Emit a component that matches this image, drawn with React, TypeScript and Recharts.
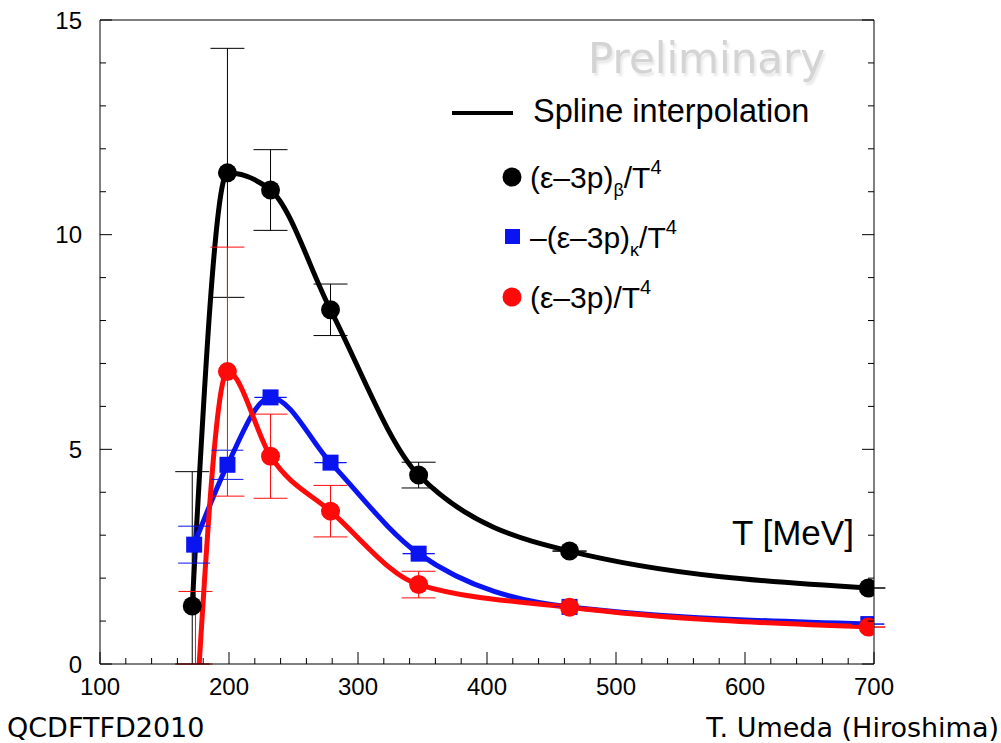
import React from 'react';
import { ComposedChart, Line, Scatter, ErrorBar, XAxis, YAxis } from 'recharts';

// Temperatures (MeV)
const tempBeta = [171.5, 198.8, 232.2, 278.7, 347.0, 464.0, 695.6];
const tempKappa = [173.0, 198.8, 232.2, 278.7, 347.0, 464.0, 695.6];
const tempTotal = [174.0, 198.8, 232.2, 278.7, 347.0, 464.0, 695.6];

// (e-3p)_beta / T^4  (black)
const betaValues = [1.35, 11.44, 11.04, 8.25, 4.40, 2.63, 1.77];
const betaErrors = [3.13, 2.9, 0.94, 0.6, 0.3, 0, 0];

// -(e-3p)_kappa / T^4  (blue)
const kappaValues = [2.78, 4.64, 6.21, 4.69, 2.57, 1.33, 0.93];
const kappaErrors = [0.43, 0.34, 0, 0, 0, 0, 0];

// (e-3p) / T^4  (red)
const totalValues = [-1.43, 6.81, 4.84, 3.56, 1.85, 1.32, 0.86];
const totalErrors = [3.12, 2.9, 0.98, 0.6, 0.31, 0, 0];

const xMajorTicks = [100, 200, 300, 400, 500, 600, 700];
const yMajorTicks = [0, 5, 10, 15];
const Y_MIN = 0;

const xTicks: number[] = [];
for (let v = 100; v <= 700; v += 20) xTicks.push(v);
const yTicks: number[] = [];
for (let v = 0; v <= 15; v += 1) yTicks.push(v);

// error bars are not clipped by recharts, so stop the lower arm at the x axis
const toRows = (t: number[], v: number[], e: number[]) =>
  t.map((x, i) => ({ x, y: v[i], err: [Math.min(e[i], v[i] - Y_MIN), e[i]] }));

const betaData = toRows(tempBeta, betaValues, betaErrors);
const kappaData = toRows(tempKappa, kappaValues, kappaErrors);
const totalData = toRows(tempTotal, totalValues, totalErrors);

const SANS = '"Liberation Sans", Arial, sans-serif';
const VERDANA = '"DejaVu Sans", Verdana, sans-serif';

const BLACK = '#000000';
const BLUE = '#0a14f0';
const RED = '#ff0a0a';

const BottomTick = (props: any) => {
  const { x, y, payload } = props;
  const major = xMajorTicks.includes(payload.value);
  return (
    <g>
      <line x1={x} x2={x} y1={y} y2={y - (major ? 12 : 6)} stroke="#000" strokeWidth={1} />
      {major && (
        <text x={x} y={y + 31} textAnchor="middle" fontFamily={SANS} fontSize={24} fill="#000">
          {payload.value}
        </text>
      )}
    </g>
  );
};

const TopTick = (props: any) => {
  const { x, y, payload } = props;
  const major = xMajorTicks.includes(payload.value);
  return <line x1={x} x2={x} y1={y} y2={y + (major ? 12 : 6)} stroke="#000" strokeWidth={1} />;
};

const LeftTick = (props: any) => {
  const { x, y, payload } = props;
  const major = yMajorTicks.includes(payload.value);
  return (
    <g>
      <line x1={x} x2={x + (major ? 12 : 6)} y1={y} y2={y} stroke="#000" strokeWidth={1} />
      {major && (
        <text x={82} y={y + 8.5} textAnchor="end" fontFamily={SANS} fontSize={24} fill="#000">
          {payload.value}
        </text>
      )}
    </g>
  );
};

const RightTick = (props: any) => {
  const { x, y, payload } = props;
  const major = yMajorTicks.includes(payload.value);
  return <line x1={x} x2={x - (major ? 12 : 6)} y1={y} y2={y} stroke="#000" strokeWidth={1} />;
};

const dotShape = (color: string) => (p: any) => <circle cx={p.cx} cy={p.cy} r={9.5} fill={color} />;
const squareShape = (color: string) => (p: any) => (
  <rect x={p.cx - 8} y={p.cy - 8} width={16} height={16} fill={color} />
);

const Overlay = () => (
  <svg width={1001} height={743} style={{ position: 'absolute', left: 0, top: 0, pointerEvents: 'none' }}>
    <defs>
      <filter id="wmShadow" x="-10%" y="-30%" width="120%" height="160%">
        <feDropShadow dx={2} dy={3} stdDeviation={1} floodColor="#bdbdbd" floodOpacity={0.35} />
      </filter>
    </defs>
    {/* watermark */}
    <text x={588} y={73} fontFamily={VERDANA} fontSize={42} fill="#d4d4d4" filter="url(#wmShadow)">
      Preliminary
    </text>

    {/* legend */}
    <line x1={452} x2={513} y1={113} y2={113} stroke={BLACK} strokeWidth={4} />
    <text x={533} y={122} fontFamily={SANS} fontSize={32.5} fill="#000">Spline interpolation</text>

    <circle cx={512} cy={177} r={9.5} fill={BLACK} />
    <text x={530} y={188} fontFamily={SANS} fontSize={30} fill="#000">
      (ε–3p)<tspan fontSize={18} dy={8}>β</tspan><tspan dy={-8}>/T</tspan>
      <tspan fontSize={20} dy={-14}>4</tspan>
    </text>

    <rect x={505} y={229} width={15} height={15} fill={BLUE} />
    <text x={530} y={248} fontFamily={SANS} fontSize={30} fill="#000">
      –(ε–3p)<tspan fontSize={18} dy={8}>κ</tspan><tspan dy={-8}>/T</tspan>
      <tspan fontSize={20} dy={-14}>4</tspan>
    </text>

    <circle cx={512} cy={297} r={9.5} fill={RED} />
    <text x={530} y={308} fontFamily={SANS} fontSize={30} fill="#000">
      (ε–3p)/T<tspan fontSize={20} dy={-14}>4</tspan>
    </text>

    {/* axis title */}
    <text x={732} y={545} fontFamily={SANS} fontSize={35} fill="#000">T [MeV]</text>

    {/* footer */}
    <text x={7} y={737} fontFamily={VERDANA} fontSize={27} fill="#000">QCDFTFD2010</text>
    <text x={999} y={737} textAnchor="end" fontFamily={VERDANA} fontSize={27} fill="#000">T. Umeda (Hiroshima)</text>
  </svg>
);

export default function App() {
  return (
    <div style={{ position: 'absolute', left: 0, top: 0, width: 1001, height: 743, background: '#fff' }}>
      <ComposedChart width={1001} height={743} margin={{ top: 0, right: 0, bottom: 0, left: 0 }}>
        <XAxis
          xAxisId="bottom"
          dataKey="x"
          type="number"
          domain={[100, 700]}
          ticks={xTicks}
          interval={0}
          height={79}
          tickSize={0}
          tickMargin={0}
          tickLine={false}
          axisLine={{ stroke: '#000', strokeWidth: 1 }}
          tick={<BottomTick />}
          allowDataOverflow
        />
        <XAxis
          xAxisId="top"
          orientation="top"
          type="number"
          domain={[100, 700]}
          ticks={xTicks}
          interval={0}
          height={20}
          tickSize={0}
          tickMargin={0}
          tickLine={false}
          axisLine={{ stroke: '#000', strokeWidth: 1 }}
          tick={<TopTick />}
          allowDataOverflow
        />
        <YAxis
          yAxisId="left"
          dataKey="y"
          type="number"
          domain={[0, 15]}
          ticks={yTicks}
          interval={0}
          width={100}
          tickSize={0}
          tickMargin={0}
          tickLine={false}
          axisLine={{ stroke: '#000', strokeWidth: 1 }}
          tick={<LeftTick />}
          allowDataOverflow
        />
        <YAxis
          yAxisId="right"
          orientation="right"
          type="number"
          domain={[0, 15]}
          ticks={yTicks}
          interval={0}
          width={127}
          tickSize={0}
          tickMargin={0}
          tickLine={false}
          axisLine={{ stroke: '#000', strokeWidth: 1 }}
          tick={<RightTick />}
          allowDataOverflow
        />

        {/* spline curves */}
        <Line xAxisId="bottom" yAxisId="left" data={betaData} dataKey="y" type="monotoneX"
          stroke={BLACK} strokeWidth={5} dot={false} isAnimationActive={false} />
        <Line xAxisId="bottom" yAxisId="left" data={kappaData} dataKey="y" type="monotoneX"
          stroke={BLUE} strokeWidth={5} dot={false} isAnimationActive={false} />
        <Line xAxisId="bottom" yAxisId="left" data={totalData} dataKey="y" type="monotoneX"
          stroke={RED} strokeWidth={5} dot={false} isAnimationActive={false} />

        {/* data points with error bars */}
        <Scatter xAxisId="bottom" yAxisId="left" data={betaData} dataKey="y" shape={dotShape(BLACK)} isAnimationActive={false}>
          <ErrorBar dataKey="err" direction="y" width={17} stroke={BLACK} strokeWidth={1} />
        </Scatter>
        <Scatter xAxisId="bottom" yAxisId="left" data={kappaData} dataKey="y" shape={squareShape(BLUE)} isAnimationActive={false}>
          <ErrorBar dataKey="err" direction="y" width={16} stroke={BLUE} strokeWidth={1} />
        </Scatter>
        <Scatter xAxisId="bottom" yAxisId="left" data={totalData} dataKey="y" shape={dotShape(RED)} isAnimationActive={false}>
          <ErrorBar dataKey="err" direction="y" width={17} stroke={RED} strokeWidth={1} />
        </Scatter>
      </ComposedChart>
      <Overlay />
    </div>
  );
}
